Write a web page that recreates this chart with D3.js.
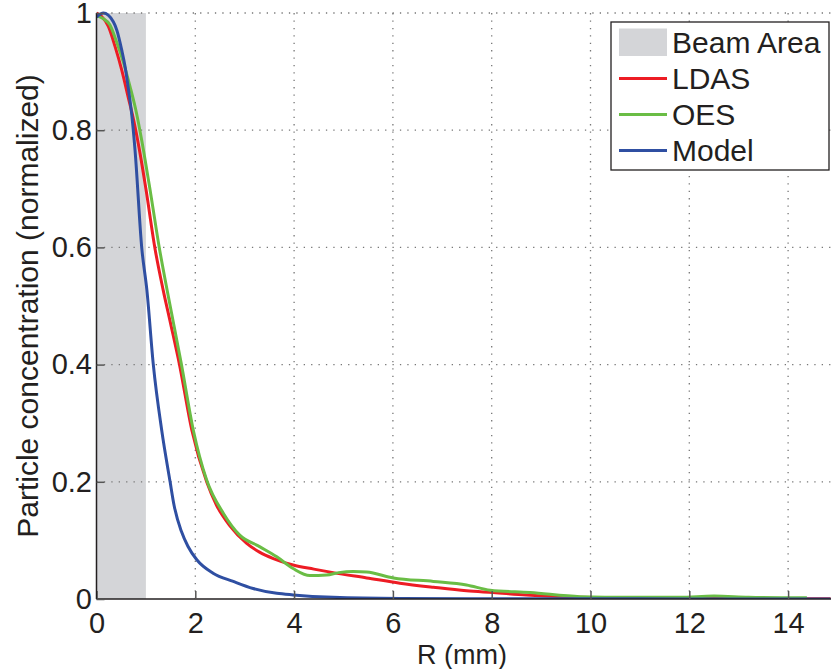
<!DOCTYPE html>
<html>
<head>
<meta charset="utf-8">
<script src="https://cdn.jsdelivr.net/npm/d3@7"></script>
<style>
  html, body { margin: 0; padding: 0; background: #fff; }
  svg { display: block; }
  text { font-family: "Liberation Sans", Arial, Helvetica, sans-serif; fill: #231f20; }
</style>
</head>
<body>
<svg id="chart" width="831" height="669"></svg>
<script>
// ---- data ----
const xTicks = [0, 2, 4, 6, 8, 10, 12, 14];
const yTicks = [0, 0.2, 0.4, 0.6, 0.8, 1];
const yTickLabels = ["0", "0.2", "0.4", "0.6", "0.8", "1"];
const beamArea = [0, 1];

const rLDAS = [0, 0.105, 0.24, 0.375, 0.51, 0.64, 0.78, 0.87, 1.0, 1.18, 1.35, 1.5, 1.68, 1.93, 2.23, 2.43, 2.7, 3.04, 3.3, 3.58, 3.98, 4.4, 4.79, 5.47, 6.14, 6.82, 7.49, 8.03, 8.7, 9.45, 10.5, 12, 14.86];
const LDAS  = [1.0, 0.994, 0.977, 0.943, 0.903, 0.857, 0.806, 0.766, 0.70, 0.6, 0.527, 0.47, 0.4, 0.288, 0.2, 0.16, 0.125, 0.095, 0.08, 0.069, 0.058, 0.051, 0.045, 0.036, 0.027, 0.020, 0.014, 0.011, 0.007, 0.004, 0.002, 0.001, 0.0005];

const rOES = [0, 0.14, 0.27, 0.41, 0.54, 0.68, 0.81, 0.915, 1.1, 1.27, 1.43, 1.72, 1.96, 2.23, 2.57, 2.9, 3.31, 3.65, 3.98, 4.32, 4.66, 4.9, 5.2, 5.47, 6.01, 6.82, 7.49, 7.97, 8.78, 9.79, 10.8, 11.8, 12.5, 13.2, 14.38];
const OES  = [0.995, 0.99, 0.98, 0.95, 0.917, 0.874, 0.829, 0.783, 0.69, 0.6, 0.527, 0.4, 0.288, 0.203, 0.146, 0.109, 0.089, 0.072, 0.052, 0.040, 0.041, 0.045, 0.047, 0.046, 0.036, 0.030, 0.024, 0.015, 0.011, 0.004, 0.003, 0.003, 0.005, 0.003, 0.002];

const rModel = [0, 0.14, 0.34, 0.41, 0.51, 0.58, 0.64, 0.71, 0.78, 0.915, 1.02, 1.15, 1.32, 1.49, 1.57, 1.72, 1.85, 2.03, 2.36, 2.77, 3.17, 3.65, 3.98, 4.79, 6.14, 8, 10, 12, 14.86];
const Model  = [0.993, 1.0, 0.985, 0.971, 0.937, 0.908, 0.874, 0.829, 0.766, 0.6, 0.527, 0.4, 0.288, 0.2, 0.16, 0.115, 0.09, 0.067, 0.044, 0.030, 0.018, 0.0097, 0.007, 0.003, 0.001, 0.0005, 0.0003, 0.0002, 0.0001];

const seriesNames = ["LDAS", "OES", "Model"];
const seriesColors = ["#ed1c24", "#6abd45", "#2f4fa2"];

// ---- layout ----
const svg = d3.select("#chart");
const pLeft = 96.5, pRight = 837.5, pTop = 13, pBottom = 599;
const x = d3.scaleLinear().domain([0, 15]).range([pLeft, pRight]);
const y = d3.scaleLinear().domain([0, 1]).range([pBottom, pTop]);

svg.append("defs").append("clipPath").attr("id", "plotclip")
  .append("rect").attr("x", pLeft).attr("y", pTop - 3).attr("width", pRight - pLeft).attr("height", pBottom - pTop + 3);

// beam area
svg.append("rect")
  .attr("x", x(beamArea[0])).attr("y", y(1))
  .attr("width", x(beamArea[1]) - x(beamArea[0])).attr("height", y(0) - y(1))
  .attr("fill", "#d4d5d8");

// grid
const grid = svg.append("g").attr("stroke", "#777").attr("stroke-width", 1.3).attr("stroke-dasharray", "1.3,6.1");
grid.selectAll(".vg").data(xTicks.filter(d => d > 0)).join("line")
  .attr("x1", d => x(d)).attr("x2", d => x(d)).attr("y1", pBottom).attr("y2", pTop);
grid.selectAll(".hg").data(yTicks.filter(d => d > 0)).join("line")
  .attr("x1", pLeft).attr("x2", pRight).attr("y1", d => y(d)).attr("y2", d => y(d));

// lines
const seriesData = [
  rLDAS.map((r, i) => [r, LDAS[i]]),
  rOES.map((r, i) => [r, OES[i]]),
  rModel.map((r, i) => [r, Model[i]])
];
const line = d3.line().x(d => x(d[0])).y(d => y(d[1])).curve(d3.curveMonotoneX);
const lines = svg.append("g").attr("clip-path", "url(#plotclip)");
seriesData.forEach((s, i) => {
  lines.append("path").datum(s).attr("d", line)
    .attr("fill", "none").attr("stroke", seriesColors[i]).attr("stroke-width", 3)
    .attr("stroke-linejoin", "round");
});

// axes
const xAxis = d3.axisBottom(x).tickValues(xTicks).tickSize(-8).tickPadding(13).tickFormat(d3.format("d"));
const gx = svg.append("g").attr("transform", `translate(0,${pBottom})`).call(xAxis);
gx.select(".domain").attr("stroke", "#231f20").attr("stroke-width", 1.5).attr("d", `M${pLeft},0H${pRight}`);
gx.selectAll(".tick line").attr("stroke", "#555").attr("stroke-width", 1.5);
gx.selectAll("text").attr("font-size", 29).attr("font-family", "Liberation Sans, Arial, sans-serif").attr("fill", "#231f20");

const yAxis = d3.axisLeft(y).tickValues(yTicks).tickSize(-8).tickPadding(4.5).tickFormat((d, i) => yTickLabels[i]);
const gy = svg.append("g").attr("transform", `translate(${pLeft},0)`).call(yAxis);
gy.select(".domain").attr("stroke", "#231f20").attr("stroke-width", 1.5).attr("d", `M0,${pBottom}V${pTop}`);
gy.selectAll(".tick line").attr("stroke", "#555").attr("stroke-width", 1.5);
gy.selectAll("text").attr("font-size", 29).attr("font-family", "Liberation Sans, Arial, sans-serif").attr("fill", "#231f20");

// axis labels
svg.append("text").attr("x", 462).attr("y", 664)
  .attr("text-anchor", "middle").attr("font-size", 27).text("R (mm)");
svg.append("text").attr("transform", `translate(38,306) rotate(-90)`)
  .attr("text-anchor", "middle").attr("font-size", 30).text("Particle concentration (normalized)");

// legend
const lg = svg.append("g");
lg.append("rect").attr("x", 611).attr("y", 22).attr("width", 218).attr("height", 148)
  .attr("fill", "#fff").attr("stroke", "#231f20").attr("stroke-width", 1.3);
lg.append("rect").attr("x", 619).attr("y", 28.5).attr("width", 48).attr("height", 27.5).attr("fill", "#d4d5d8");
lg.append("text").attr("x", 672).attr("y", 53).attr("font-size", 30).text("Beam Area");
const legY = [78.5, 114.5, 150.5];
seriesNames.forEach((n, i) => {
  lg.append("line").attr("x1", 619).attr("x2", 667).attr("y1", legY[i]).attr("y2", legY[i])
    .attr("stroke", seriesColors[i]).attr("stroke-width", 3);
  lg.append("text").attr("x", 672).attr("y", legY[i] + 10.5).attr("font-size", 30).text(n);
});
</script>
</body>
</html>
